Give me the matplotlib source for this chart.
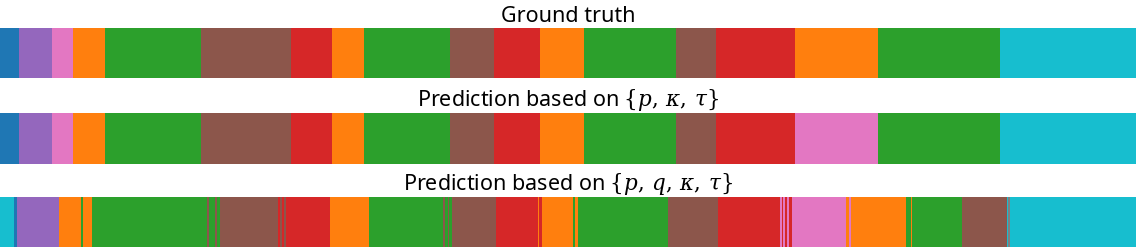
import matplotlib
matplotlib.use("Agg")
import matplotlib.pyplot as plt

plt.rcParams['font.family'] = ['Noto Sans', 'DejaVu Sans']
plt.rcParams['mathtext.fontset'] = 'dejavuserif'

# tab10 colours, indexed by class id
CLASS_COLORS = ['#1f77b4', '#ff7f0e', '#2ca02c', '#d62728', '#9467bd',
                '#8c564b', '#e377c2', '#7f7f7f', '#bcbd22', '#17becf']
TOTAL_LEN = 1136

# Segment start positions and class ids for each sequence
gt_starts = [0, 19.3, 52, 72.7, 104.7, 200.7, 290.7, 332.3, 363.7, 450.3, 494,
             540.3, 584.3, 675.7, 716, 795, 878, 999.7]
gt_labels = [0, 4, 6, 1, 2, 5, 3, 1, 2, 5, 3, 1, 2, 5, 3, 1, 2, 9]

pred1_starts = [0, 19.3, 52, 72.7, 104.7, 200.7, 290.7, 332.3, 363.7, 450.3, 494,
                540.3, 584.3, 675.7, 716, 795, 878, 999.7]
pred1_labels = [0, 4, 6, 1, 2, 5, 3, 1, 2, 5, 3, 1, 2, 5, 3, 6, 2, 9]

pred2_starts = [0, 14, 16.5, 59.3, 81, 83, 92.3, 207, 209, 215.3, 217.3, 220,
                278.3, 280, 282.3, 283.7, 286, 329.7, 368.7, 443.3, 444.5, 448.3,
                449.3, 452, 495.7, 537.7, 539, 541.7, 572.7, 574.7, 577.7, 668,
                718, 780, 782.3, 783.3, 784.7, 786.7, 789.3, 792, 846, 848.7,
                850.7, 906, 911, 912.3, 962, 1007, 1008, 1009.5]
pred2_labels = [9, 0, 4, 1, 2, 1, 2, 5, 2, 5, 2, 5,
                3, 5, 3, 5, 3, 1, 2, 5, 2, 5,
                2, 5, 3, 1, 3, 1, 2, 1, 2, 5,
                3, 6, 3, 6, 3, 6, 3, 6, 1, 6,
                1, 2, 1, 2, 5, 9, 7, 9]

titles = ["Ground truth",
          r"Prediction based on $\{p,\, \kappa,\, \tau\}$",
          r"Prediction based on $\{p,\, q,\, \kappa,\, \tau\}$"]
sequences = [(gt_starts, gt_labels), (pred1_starts, pred1_labels),
             (pred2_starts, pred2_labels)]

fig = plt.figure(figsize=(11.36, 2.49), dpi=100)
axes_rects = [[0, 0.6867, 1, 0.2028],
              [0, 0.3414, 1, 0.2048],
              [0, 0.0080, 1, 0.2008]]

for rect, title, (starts, labels) in zip(axes_rects, titles, sequences):
    ax = fig.add_axes(rect)
    ends = starts[1:] + [TOTAL_LEN]
    widths = [e - s for s, e in zip(starts, ends)]
    colors = [CLASS_COLORS[c] for c in labels]
    ax.barh(0, widths, left=starts, height=1, color=colors, linewidth=0)
    ax.set_xlim(0, TOTAL_LEN)
    ax.set_ylim(-0.5, 0.5)
    ax.set_title(title, fontsize=15.5, pad=4)
    ax.axis('off')

fig.savefig("out.png", dpi=100)
